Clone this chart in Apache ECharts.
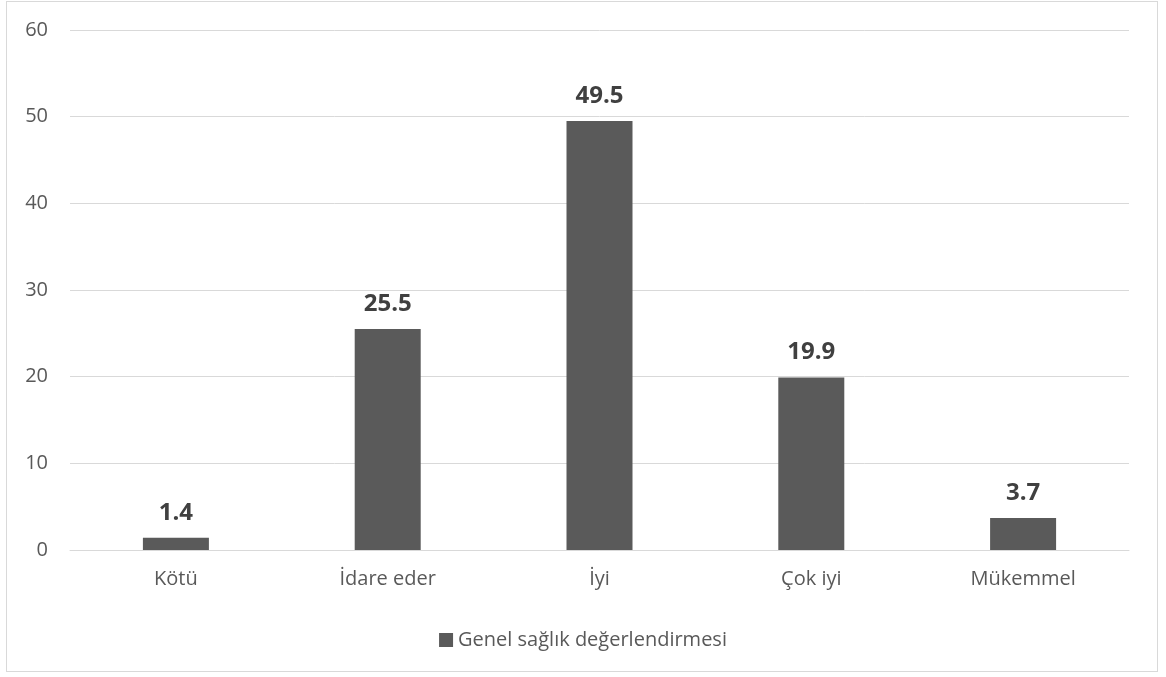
<!DOCTYPE html>
<html>
<head>
<meta charset="utf-8">
<script src="https://cdn.jsdelivr.net/npm/echarts@6/dist/echarts.min.js"></script>
<style>
  html, body { margin: 0; padding: 0; background: #fff; }
  #frame { position: absolute; left: 6px; top: 1px; width: 1152px; height: 671px; border: 1px solid #d9d9d9; box-sizing: border-box; }
  #chart { position: absolute; left: 0; top: 0; width: 1166px; height: 677px; }
</style>
</head>
<body>
<div id="frame"></div>
<div id="chart"></div>
<script>
// Self-rated general health, percentage of respondents
const categories = ['Kötü', 'İdare eder', 'İyi', 'Çok iyi', 'Mükemmel'];
const seriesName = 'Genel sağlık değerlendirmesi';
const values = [1.4, 25.5, 49.5, 19.9, 3.7];
const yTicks = { min: 0, max: 60, interval: 10 };

const FONT = '"Open Sans", sans-serif';
const chart = echarts.init(document.getElementById('chart'), null, { renderer: 'canvas' });
chart.setOption({
  animation: false,
  backgroundColor: 'transparent',
  grid: { left: 70, right: 37, top: 30, bottom: 127, containLabel: false },
  legend: {
    top: 625,
    left: 'center',
    icon: 'rect',
    itemWidth: 14,
    itemHeight: 14,
    itemGap: 6,
    textStyle: { color: '#595959', fontSize: 20, fontFamily: FONT },
    data: [seriesName]
  },
  xAxis: {
    type: 'category',
    data: categories,
    axisLine: { show: true, lineStyle: { color: '#d9d9d9', width: 1 } },
    axisTick: { show: false },
    axisLabel: { color: '#595959', fontSize: 20, fontFamily: FONT, margin: 19 }
  },
  yAxis: {
    type: 'value',
    min: yTicks.min,
    max: yTicks.max,
    interval: yTicks.interval,
    axisLine: { show: false },
    axisTick: { show: false },
    splitLine: { lineStyle: { color: '#d9d9d9', width: 1 } },
    axisLabel: { color: '#595959', fontSize: 20, fontFamily: FONT, margin: 22 }
  },
  series: [{
    name: seriesName,
    type: 'bar',
    data: values,
    barWidth: 66,
    itemStyle: { color: '#5a5a5a' },
    label: {
      show: true,
      position: 'top',
      distance: 13,
      color: '#404040',
      fontSize: 24,
      fontWeight: 'bold',
      fontFamily: FONT,
      formatter: p => p.value.toFixed(1)
    }
  }]
});
</script>
</body>
</html>
